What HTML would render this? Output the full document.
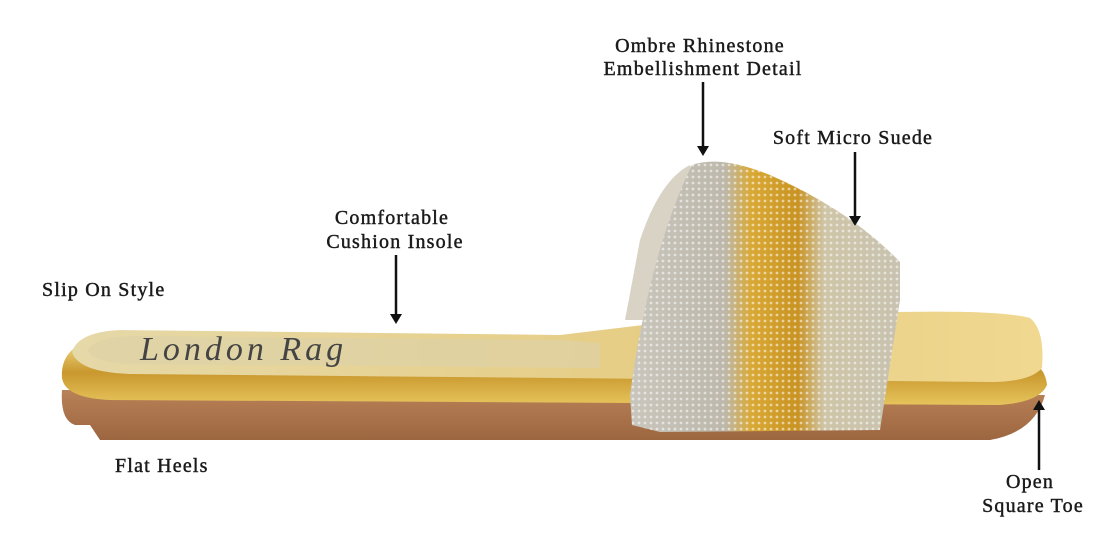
<!DOCTYPE html>
<html><head><meta charset="utf-8"><style>
html,body{margin:0;padding:0;background:#fff;}
svg{display:block}
text{font-family:"Liberation Serif",serif;font-size:20px;fill:#1a1a1a;letter-spacing:1.2px;stroke:#1a1a1a;stroke-width:0.45px}
</style></head><body>
<svg width="1100" height="555" viewBox="0 0 1100 555">
<defs>
<linearGradient id="sole" x1="0" y1="0" x2="0" y2="1"><stop offset="0" stop-color="#b98157"/><stop offset="1" stop-color="#9c6640"/></linearGradient>
<linearGradient id="rim" x1="0" y1="0" x2="0" y2="1"><stop offset="0" stop-color="#f3dd8a"/><stop offset=".5" stop-color="#c9982e"/><stop offset="1" stop-color="#e6c45c"/></linearGradient>
<linearGradient id="ins" x1="0" y1="0" x2="1" y2="0"><stop offset="0" stop-color="#e6d9a8"/><stop offset=".6" stop-color="#e6cd84"/><stop offset="1" stop-color="#f0d890"/></linearGradient>
<linearGradient id="strap" x1="0" y1="0" x2="1" y2="0"><stop offset="0" stop-color="#c9c6bd"/><stop offset=".35" stop-color="#bdb8ab"/><stop offset=".45" stop-color="#d9a934"/><stop offset=".62" stop-color="#c99322"/><stop offset=".72" stop-color="#cfc5a8"/><stop offset="1" stop-color="#c8c2b0"/></linearGradient>
<pattern id="dots" width="6" height="6" patternUnits="userSpaceOnUse"><circle cx="3" cy="3" r="1.4" fill="#fff" opacity=".55"/></pattern>
</defs>
<!-- sole -->
<path d="M62,390 Q60,420 75,425 L90,425 L100,440 L990,440 Q1035,432 1045,395 Z" fill="url(#sole)"/>
<!-- gold rim -->
<path d="M62,378 Q60,350 90,340 L1010,352 Q1045,360 1047,385 Q1040,402 1000,405 L110,400 Q65,398 62,378 Z" fill="url(#rim)"/>
<!-- insole -->
<path d="M72,352 Q78,332 120,330 L560,335 Q620,328 700,318 L900,312 Q1000,310 1030,318 Q1045,330 1042,368 Q1030,382 990,382 L130,374 Q78,372 72,352 Z" fill="url(#ins)"/>
<path d="M88,350 Q93,338 130,336 L560,340 L600,343 L600,368 L130,364 Q90,362 88,350 Z" fill="#ddd1a6" opacity=".7"/>
<text x="140" y="360" style="font-style:italic;font-size:34px;fill:#444;stroke:none;letter-spacing:4px">London Rag</text>
<!-- inner strap -->
<path d="M690,165 Q660,180 640,240 L625,320 L660,320 Q670,230 700,190 Z" fill="#d8d3c5"/>
<!-- strap -->
<path d="M692,165 Q720,155 770,175 Q850,210 900,262 L900,300 L880,430 L660,432 L632,425 L630,395 Q650,250 692,165 Z" fill="url(#strap)"/>
<path d="M692,165 Q720,155 770,175 Q850,210 900,262 L900,300 L880,430 L660,432 L632,425 L630,395 Q650,250 692,165 Z" fill="url(#dots)"/>
<!-- labels -->
<text x="700" y="52" text-anchor="middle">Ombre Rhinestone</text>
<text x="703" y="75" text-anchor="middle">Embellishment Detail</text>
<text x="853" y="144" text-anchor="middle">Soft Micro Suede</text>
<text x="392" y="224" text-anchor="middle">Comfortable</text>
<text x="395" y="248" text-anchor="middle">Cushion Insole</text>
<text x="42" y="296">Slip On Style</text>
<text x="115" y="472">Flat Heels</text>
<text x="1030" y="488" text-anchor="middle">Open</text>
<text x="1033" y="512" text-anchor="middle">Square Toe</text>
<!-- arrows -->
<g stroke="#111" stroke-width="2.5" fill="none">
<line x1="703" y1="82" x2="703" y2="150"/>
<line x1="855" y1="152" x2="855" y2="220"/>
<line x1="396" y1="255" x2="396" y2="318"/>
<line x1="1039" y1="470" x2="1039" y2="406"/>
</g>
<g fill="#111">
<path d="M697,146 L703,156 L709,146 Z"/>
<path d="M849,216 L855,226 L861,216 Z"/>
<path d="M390,314 L396,324 L402,314 Z"/>
<path d="M1033,410 L1039,400 L1045,410 Z"/>
</g>
</svg>
</body></html>
